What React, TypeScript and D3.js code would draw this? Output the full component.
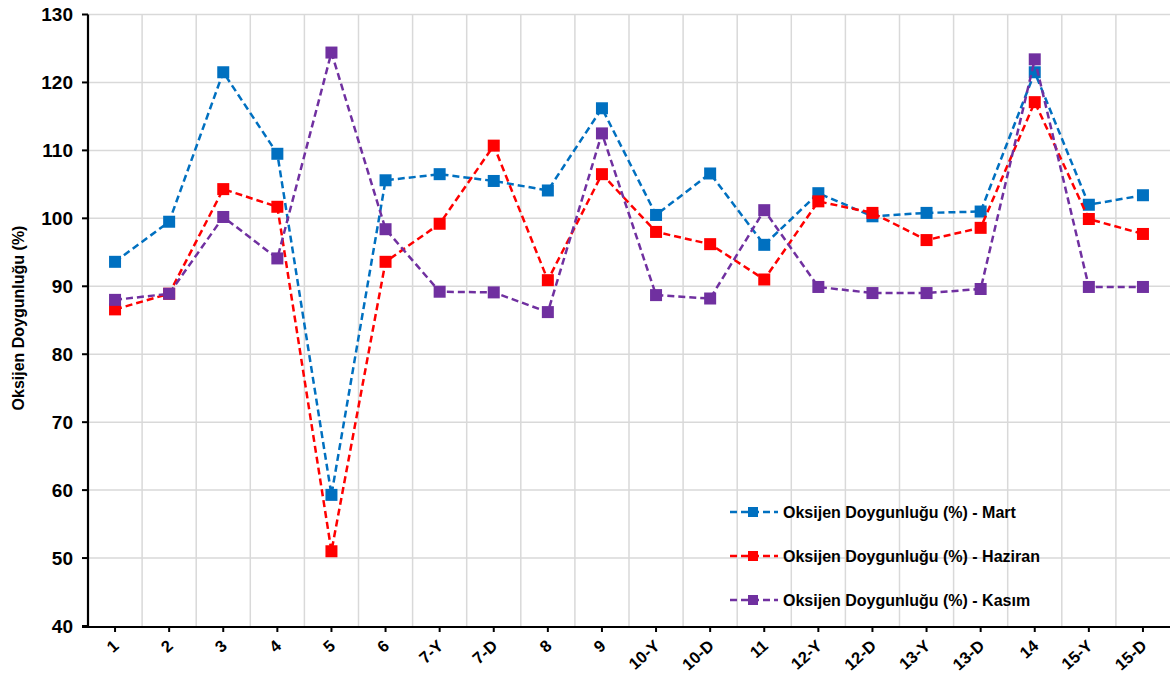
import React, { useEffect, useRef } from "react";
import * as d3 from "d3";

const categories = ["1", "2", "3", "4", "5", "6", "7-Y", "7-D", "8", "9", "10-Y", "10-D", "11", "12-Y", "12-D", "13-Y", "13-D", "14", "15-Y", "15-D"];

const mart = [93.6, 99.5, 121.5, 109.5, 59.3, 105.6, 106.5, 105.5, 104.1, 116.2, 100.5, 106.6, 96.1, 103.7, 100.3, 100.8, 101.0, 121.5, 102.0, 103.4];
const haziran = [86.6, 88.9, 104.3, 101.7, 51.0, 93.6, 99.2, 110.7, 90.9, 106.5, 98.0, 96.2, 91.0, 102.5, 100.8, 96.8, 98.6, 117.1, 99.9, 97.7];
const kasim = [88.0, 88.9, 100.2, 94.1, 124.4, 98.4, 89.2, 89.1, 86.2, 112.5, 88.7, 88.2, 101.2, 89.9, 89.0, 89.0, 89.6, 123.4, 89.9, 89.9];

const yTicks = [40, 50, 60, 70, 80, 90, 100, 110, 120, 130];

const seriesNames = [
  "Oksijen Doygunluğu (%) - Mart",
  "Oksijen Doygunluğu (%) - Haziran",
  "Oksijen Doygunluğu (%) - Kasım",
];
const seriesColors = ["#0070C0", "#FF0000", "#7030A0"];
const yTitle = "Oksijen Doygunluğu (%)";

const W = 1170;
const H = 677;
const FONT = "'Liberation Sans', Arial, sans-serif";

export default function App() {
  const ref = useRef<SVGSVGElement>(null);

  useEffect(() => {
    const svg = d3.select(ref.current);
    svg.selectAll("*").remove();

    const left = 88, right = 1170, top = 14.5, bottom = 626;

    const x = d3.scaleBand<string>().domain(categories).range([left, right]);
    const y = d3.scaleLinear().domain([40, 130]).range([bottom, top]);

    const grid = svg.append("g");
    // horizontal gridlines
    grid.selectAll("line.h")
      .data(yTicks.slice(1))
      .join("line")
      .attr("x1", left).attr("x2", right)
      .attr("y1", (d) => y(d)).attr("y2", (d) => y(d))
      .attr("stroke", "#d9d9d9").attr("stroke-width", 1.5);
    // vertical gridlines at category boundaries
    grid.selectAll("line.v")
      .data(categories.slice(1))
      .join("line")
      .attr("x1", (d) => x(d)!).attr("x2", (d) => x(d)!)
      .attr("y1", top).attr("y2", bottom)
      .attr("stroke", "#d9d9d9").attr("stroke-width", 1.5);

    // axes
    svg.append("line")
      .attr("x1", left).attr("x2", left).attr("y1", top).attr("y2", bottom + 1)
      .attr("stroke", "#000").attr("stroke-width", 2.2);
    svg.append("line")
      .attr("x1", left - 6).attr("x2", right).attr("y1", bottom + 1).attr("y2", bottom + 1)
      .attr("stroke", "#000").attr("stroke-width", 2.2);

    // y ticks + labels
    const yt = svg.append("g");
    yTicks.forEach((t) => {
      yt.append("line")
        .attr("x1", left - 6).attr("x2", left).attr("y1", y(t)).attr("y2", y(t))
        .attr("stroke", "#000").attr("stroke-width", 2);
      yt.append("text")
        .attr("x", left - 15).attr("y", y(t))
        .attr("dy", "0.36em").attr("text-anchor", "end")
        .attr("font-family", FONT).attr("font-weight", "bold").attr("font-size", 19)
        .text(String(t));
    });

    // x ticks + rotated labels
    const xt = svg.append("g");
    categories.forEach((c) => {
      const cx = x(c)! + x.bandwidth() / 2;
      xt.append("line")
        .attr("x1", cx).attr("x2", cx).attr("y1", bottom + 1).attr("y2", bottom + 6)
        .attr("stroke", "#000").attr("stroke-width", 2);
      xt.append("text")
        .attr("transform", `translate(${cx + 1},${bottom + 17}) rotate(-42)`)
        .attr("text-anchor", "end")
        .attr("dy", "0.35em")
        .attr("font-family", FONT).attr("font-weight", "bold").attr("font-size", 16.5)
        .text(c);
    });

    // y axis title
    svg.append("text")
      .attr("transform", `translate(24,318) rotate(-90)`)
      .attr("text-anchor", "middle")
      .attr("font-family", FONT).attr("font-weight", "bold").attr("font-size", 16)
      .text(yTitle);

    // series
    const data = [mart, haziran, kasim];
    const line = d3.line<number>()
      .x((_, i) => x(categories[i])! + x.bandwidth() / 2)
      .y((d) => y(d));

    data.forEach((vals, si) => {
      const g = svg.append("g");
      g.append("path")
        .attr("d", line(vals)!)
        .attr("fill", "none")
        .attr("stroke", seriesColors[si])
        .attr("stroke-width", 2.5)
        .attr("stroke-dasharray", "7,4");
      g.selectAll("rect")
        .data(vals)
        .join("rect")
        .attr("x", (_, i) => x(categories[i])! + x.bandwidth() / 2 - 6)
        .attr("y", (d) => y(d) - 6)
        .attr("width", 12).attr("height", 12)
        .attr("fill", seriesColors[si]);
    });

    // legend
    const lg = svg.append("g");
    const legendY = [512, 556, 600];
    seriesNames.forEach((name, i) => {
      const ly = legendY[i];
      lg.append("line")
        .attr("x1", 730).attr("x2", 778).attr("y1", ly).attr("y2", ly)
        .attr("stroke", seriesColors[i]).attr("stroke-width", 2.5)
        .attr("stroke-dasharray", "7,4");
      lg.append("rect")
        .attr("x", 748).attr("y", ly - 5).attr("width", 10).attr("height", 10)
        .attr("fill", seriesColors[i]);
      lg.append("text")
        .attr("x", 783).attr("y", ly).attr("dy", "0.35em")
        .attr("font-family", FONT).attr("font-weight", "bold").attr("font-size", 16)
        .text(name);
    });
  }, []);

  return (
    <svg
      ref={ref}
      width={W}
      height={H}
      style={{ position: "absolute", left: 0, top: 0, background: "#fff" }}
    />
  );
}
